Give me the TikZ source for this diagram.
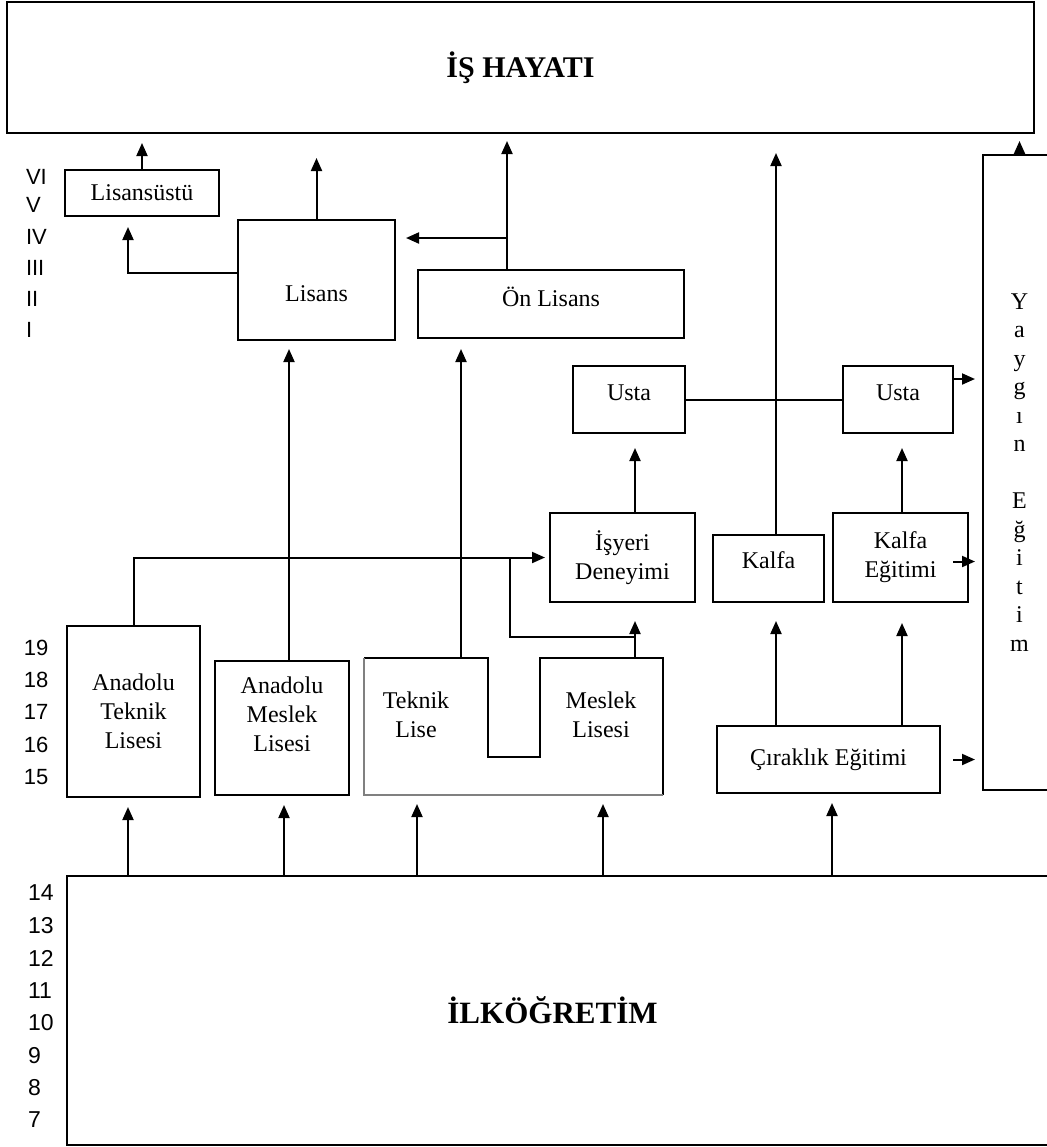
\documentclass[tikz,border=0pt]{standalone}
\usepackage{fontspec}
\setmainfont{Liberation Serif}
\setsansfont{Liberation Sans}
\usetikzlibrary{arrows.meta,positioning}

\begin{document}
\begin{tikzpicture}[
    x=0.5pt, y=-0.5pt,
    line width=1pt,
    box/.style={
        draw, rectangle, inner sep=0pt, align=center,
        font=\fontsize{12}{14.5}\selectfont
    },
    hole/.style={
        rectangle, inner sep=0pt, align=center,
        font=\fontsize{12}{14.5}\selectfont
    },
    age/.style={anchor=west, inner sep=0pt, font=\sffamily\fontsize{11}{13}\selectfont},
    arr/.style={-{Triangle[length=6.5pt,width=5.5pt]}, shorten >=4pt}
]
    \useasboundingbox[fill=white] (0,0) rectangle (1046,1147);

    % Top and bottom
    \node[box, minimum width=513.5pt, minimum height=65.5pt] (ish) at (520.5,67.5)
        {\bfseries\fontsize{15}{17}\selectfont İŞ HAYATI};
    \node[box, minimum width=494.5pt, minimum height=134.5pt] (ilk) at (561.5,1010.5)
        {\bfseries\fontsize{15.5}{18}\selectfont İLKÖĞRETİM\hspace{9pt}};
    \node[box, minimum width=36.5pt, minimum height=317.5pt, font=\fontsize{12}{14.25}\selectfont] (yay) at (1019.5,472.5)
        {Y\\a\\y\\g\\ı\\n\\[14.25pt]E\\ğ\\i\\t\\i\\m};

    % Higher education
    \node[box, minimum width=77pt, minimum height=23pt] (lsu) at (142,193) {Lisansüstü};
    \node[box, minimum width=78.5pt, minimum height=60pt, text height=21pt, text depth=0pt] (lis) at (316.5,280) {Lisans};
    \node[box, minimum width=133pt, minimum height=34pt, text height=8pt, text depth=6pt] (onl) at (551,304) {Ön Lisans};

    % Master and journeyman
    \node[box, minimum width=56pt, minimum height=33.5pt, text height=8pt, text depth=7.5pt] (us1) at (629,399.5) {Usta};
    \node[box, minimum width=55pt, minimum height=33.5pt, text height=8pt, text depth=7.5pt] (us2) at (898,399.5) {Usta};
    \node[box, minimum width=72.5pt, minimum height=44.5pt] (isy) at (622.5,557.5) {İşyeri\\Deneyimi};
    \node[box, minimum width=55.5pt, minimum height=33.5pt, text height=8pt, text depth=8.5pt] (kal) at (768.5,568.5) {Kalfa};
    \node[box, minimum width=67.5pt, minimum height=44.5pt] (keg) at (900.5,557.5) {Kalfa\\Eğitimi};

    % Secondary schools
    \node[box, minimum width=66.5pt, minimum height=85.5pt] (atl) at (133.5,711.5) {Anadolu\\Teknik\\Lisesi};
    \node[box, minimum width=67pt, minimum height=67pt] (aml) at (282,728) {};
    \node[hole] (amltx) at (282,714) {Anadolu\\Meslek\\Lisesi};
    \node[hole] (tl) at (416,715) {Teknik\\Lise};
    \node[hole] (ml) at (601,715) {Meslek\\Lisesi};
    \node[box, minimum width=111.5pt, minimum height=33.5pt] (cir) at (828.5,759.5) {Çıraklık Eğitimi};

    % Teknik Lise / Meslek Lisesi outline
    \coordinate (tmtop) at (500,658);
    \coordinate (tmbot) at (500,795);
    \draw (364,658) -- (488,658) -- (488,757) -- (540,757) -- (540,658) -- (663,658) -- (663,795);
    \draw[gray] (663,795) -- (364,795) -- (364,658);

    % Ages and years
    \foreach \r/\y in {VI/177,V/205,IV/237,III/268,II/299,I/330}
        \node[age] (yr\r) at (25,\y) {\r};
    \foreach \a/\y in {19/648,18/680,17/712,16/745,15/777}
        \node[age] (age\a) at (23,\y) {\a};
    \foreach \a/\y in {14/893,13/926,12/958,11/991,10/1023,9/1056,8/1088,7/1120}
        \node[age, font=\sffamily\fontsize{11.5}{13}\selectfont] (age\a) at (27,\y) {\a};

    % Junctions
    \coordinate (jonl) at (507,238);
    \coordinate (jus2) at (953,379);
    \coordinate (jbr) at (510,557.5);
    \coordinate (jms) at (635,637);

    % To İş Hayatı
    \draw[arr, shorten >=4.5pt] (lsu.north) -- (ish.south -| lsu.north);
    \draw[arr, shorten >=12pt] (lis.north) -- (ish.south -| lis.north);
    \draw[arr, shorten >=3.5pt] (onl.north -| jonl) -- (ish.south -| jonl);
    \draw[arr, shorten >=9.5pt] (kal.north -| 776,0) -- (ish.south -| 776,0);
    \draw[arr, shorten >=3.5pt] (yay.north) -- (ish.south -| yay.north);

    % Higher education
    \draw[arr, shorten >=5pt] ([yshift=3.5pt]lis.west) -| (lsu.south -| 128,0);
    \draw[arr, shorten >=5pt] (jonl) -- (lis.east |- jonl);

    % Master
    \draw (us1.east) -- (us2.west);
    \draw[arr, shorten >=7pt] (isy.north -| jms) -- (us1.south -| jms);
    \draw[arr, shorten >=7pt] (keg.north -| 902,0) -- (us2.south -| 902,0);
    \draw[arr, shorten >=3.5pt] (jus2) -- (yay.west |- jus2);
    \draw[arr, shorten >=3.5pt] ([xshift=-8pt,yshift=-2pt]keg.east) -- ([yshift=-2pt]yay.west |- keg.east);
    \draw[arr, shorten >=3.5pt, shorten <=6pt] (cir.east) -- (yay.west |- cir.east);

    % Vocational paths
    \draw[arr, shorten >=2pt] (atl.north) |- (isy.west);
    \draw[arr, shorten >=4pt] (aml.north -| 289,0) -- (lis.south -| 289,0);
    \draw[arr, shorten >=5pt] (tmtop -| 461,0) -- (onl.south -| 461,0);
    \draw[arr, shorten >=9pt] (tmtop -| jms) -- (isy.south -| jms);
    \draw (jbr) |- (jms);
    \draw[arr, shorten >=9pt] (cir.north -| 776,0) -- (kal.south -| 776,0);
    \draw[arr, shorten >=10pt] (cir.north -| 902,0) -- (keg.south -| 902,0);

    % From İlköğretim
    \foreach \t/\x in {atl.south/128,aml.south/284,tmbot/417,tmbot/603,cir.south/832}
        \draw[arr, shorten >=4.5pt] (ilk.north -| \x,0) -- (\t -| \x,0);
\end{tikzpicture}
\end{document}
